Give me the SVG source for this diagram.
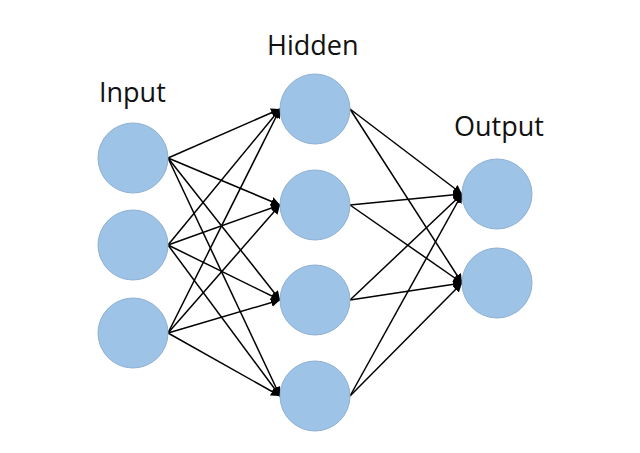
<svg xmlns="http://www.w3.org/2000/svg" width="640" height="453" viewBox="0 0 640 453">
<style>
.n{fill:#9dc3e6;stroke:#8fb0d3;stroke-width:1}
.c line{stroke:#000;stroke-width:1.5;marker-end:url(#a)}
.t{font-family:"Open Sans","Liberation Sans",sans-serif;font-size:27px;fill:#111}
</style>
<defs>
<marker id="a" viewBox="0 0 10 10" refX="10" refY="5" markerWidth="6" markerHeight="6" orient="auto" markerUnits="strokeWidth">
<path d="M0,0 L10,5 L0,10 z" fill="#000"/>
</marker>
</defs>
<rect width="640" height="453" fill="#fff"/>
<g class="c" id="connectors">
<line x1="168" y1="158" x2="280" y2="109"/>
<line x1="168" y1="158" x2="280" y2="205"/>
<line x1="168" y1="158" x2="280" y2="300"/>
<line x1="168" y1="158" x2="280" y2="396"/>
<line x1="168" y1="245" x2="280" y2="109"/>
<line x1="168" y1="245" x2="280" y2="205"/>
<line x1="168" y1="245" x2="280" y2="300"/>
<line x1="168" y1="245" x2="280" y2="396"/>
<line x1="168" y1="333" x2="280" y2="109"/>
<line x1="168" y1="333" x2="280" y2="205"/>
<line x1="168" y1="333" x2="280" y2="300"/>
<line x1="168" y1="333" x2="280" y2="396"/>
<line x1="350" y1="109" x2="462" y2="194"/>
<line x1="350" y1="109" x2="462" y2="283"/>
<line x1="350" y1="205" x2="462" y2="194"/>
<line x1="350" y1="205" x2="462" y2="283"/>
<line x1="350" y1="300" x2="462" y2="194"/>
<line x1="350" y1="300" x2="462" y2="283"/>
<line x1="350" y1="396" x2="462" y2="194"/>
<line x1="350" y1="396" x2="462" y2="283"/>
</g>
<g id="in1"><circle class="n" cx="133" cy="158" r="35"/></g>
<g id="in2"><circle class="n" cx="133" cy="245" r="35"/></g>
<g id="in3"><circle class="n" cx="133" cy="333" r="35"/></g>
<g id="h1"><circle class="n" cx="315" cy="109" r="35"/></g>
<g id="h2"><circle class="n" cx="315" cy="205" r="35"/></g>
<g id="h3"><circle class="n" cx="315" cy="300" r="35"/></g>
<g id="h4"><circle class="n" cx="315" cy="396" r="35"/></g>
<g id="o1"><circle class="n" cx="497" cy="194" r="35"/></g>
<g id="o2"><circle class="n" cx="497" cy="283" r="35"/></g>
<g id="labels">
<text class="t" x="99" y="102">Input</text>
<text class="t" x="267" y="55">Hidden</text>
<text class="t" x="454" y="136">Output</text>
</g>
</svg>
